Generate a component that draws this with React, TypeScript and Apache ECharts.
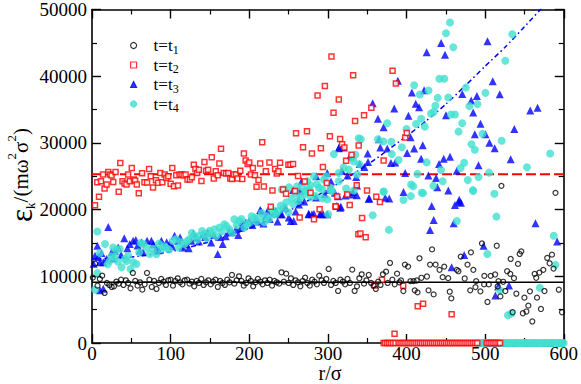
import React, { useEffect, useRef } from "react";
import * as echarts from "echarts";

// ---------- axes ----------
const xRange = [0, 600];
const xStep = 100;
const yRange = [0, 50000];
const yStep = 10000;

// ---------- series names ----------
const seriesNames = ["t=t1", "t=t2", "t=t3", "t=t4"];

// ---------- t = t1 (black open circles) ----------
const t1Points: number[][] = [
  [1, 9800], [4, 11900], [7, 8600], [10, 9600], [13, 10100], [16, 7500], [19, 9000], [22, 8700], [25, 8400], [28, 8500],
  [31, 9200], [34, 8900], [37, 9500], [40, 8700], [43, 9400], [46, 9000], [49, 8200], [52, 10500], [55, 9300], [58, 8600],
  [61, 9100], [64, 8000], [67, 8800], [70, 10500], [73, 9500], [76, 8400], [79, 9300], [82, 8100], [85, 9000], [88, 9600],
  [91, 9200], [94, 8700], [97, 9400], [100, 9500], [103, 8600], [106, 9300], [109, 9700], [112, 9100], [115, 8800], [118, 9400],
  [121, 9500], [124, 8900], [127, 9200], [130, 8500], [133, 9300], [136, 9000], [139, 9600], [142, 8700], [145, 9100], [148, 9400],
  [151, 8800], [154, 9200], [157, 9500], [160, 8400], [163, 9300], [166, 9000], [169, 8700], [172, 9500], [175, 9100], [178, 10200],
  [181, 8900], [184, 9400], [187, 10000], [190, 9300], [193, 8600], [196, 9000], [199, 9700], [202, 9300], [205, 8500], [208, 9100],
  [211, 9600], [214, 9200], [217, 8800], [220, 9400], [223, 9000], [226, 9500], [229, 8600], [232, 9300], [235, 9100], [238, 8900],
  [241, 10600], [244, 9200], [247, 10400], [250, 9000], [253, 9700], [256, 8700], [259, 9400], [262, 9100], [265, 8500], [268, 9300],
  [271, 9800], [274, 9000], [277, 8600], [280, 9500], [283, 9200], [286, 8800], [289, 10100], [292, 9400], [295, 9000], [298, 9600],
  [301, 11100], [304, 8700], [307, 9300], [310, 9000], [313, 7800], [316, 9500], [319, 9200], [322, 8800], [325, 9600], [328, 9000],
  [331, 11000], [334, 7800], [337, 8500], [340, 9700], [343, 10300], [346, 8900], [349, 9400], [352, 10200], [355, 9000], [358, 8600],
  [361, 8100], [364, 9200], [367, 8700], [370, 10300], [374, 10700], [376, 9000], [379, 12000], [382, 9500], [385, 8800], [388, 10400],
  [391, 9100], [393, 9370], [396, 7780], [398, 11760], [402, 11460], [405, 9270], [409, 9270], [410.5, 7890], [413, 9370], [414, 7590],
  [416.5, 12700], [419, 9780], [426, 9970], [428, 7890], [430, 11760], [432.5, 14030], [434.5, 7290], [437, 11760], [442, 10970], [446, 9870],
  [448, 11460], [453, 9720], [455, 7690], [457, 6700], [464, 10970], [466, 10760], [469, 12950], [474, 9670], [477.6, 11760], [481, 7890],
  [482, 13590], [485, 10970], [487.7, 8380], [488.6, 9270], [494, 7740], [496, 14930], [498.7, 8780], [499, 10070], [503, 6150], [504.7, 8780],
  [507, 10070], [512.7, 10270], [514.8, 14580], [516, 8480], [517, 9270], [519.4, 6990], [520.7, 23560], [523, 9180], [525.7, 7790], [528, 10760],
  [532, 10370], [532.5, 12600], [535, 4610], [536.7, 9720], [539.7, 7390], [541.8, 11860], [544, 13350], [546, 13740], [548, 4460], [550, 6800],
  [552.5, 4720], [555, 5600], [557, 7740], [560, 3230], [563, 10370], [565, 9780], [566, 6800], [569, 10560], [571, 5100], [574, 10970],
  [575.5, 7790], [579, 12750], [582, 11950], [585, 13240], [587, 11160], [589.5, 22510], [593.7, 7990], [597.8, 4610],
];

// ---------- t = t2 (red open squares) ----------
const t2Points: number[][] = [
  [3.8, 20640], [6.7, 24100], [8.9, 21920], [11.4, 24250], [14, 25250], [16, 23170], [18.6, 23760], [20.7, 25640], [22.8, 25250], [24.9, 25100],
  [27, 24150], [30, 25640], [34, 22660], [36, 26980], [38.8, 24250], [41.4, 23900], [43.9, 23760], [46, 25250], [48.1, 24250], [50.6, 26240],
  [53.2, 24500], [54.9, 24350], [57, 23760], [59.5, 22470], [63.7, 25440], [66.7, 24100], [70, 24060], [72.6, 26090], [74.7, 25000], [77.6, 23310],
  [81.4, 24400], [84, 24010], [86.9, 25490], [89.5, 24100], [92.4, 25250], [94.5, 24750], [97, 25000], [100, 23860], [102.1, 26240], [104.2, 23510],
  [107.2, 25150], [109.3, 23610], [111.4, 25250], [113.9, 25250], [116.5, 25100], [119, 25250], [121.5, 24500], [124.5, 24500], [127, 24850], [129.5, 26730],
  [131.6, 26090], [133.8, 25490], [135.9, 25990], [139.2, 24300], [143, 27130], [145.1, 25840], [147.7, 25990], [152.3, 27830], [154.9, 24650], [157.4, 25740],
  [159.9, 25150], [162, 26930], [164.1, 29120], [167.5, 25490], [170.5, 25400], [173.4, 25490], [175.9, 24650], [178.1, 24600], [180.2, 25250], [183.1, 25250],
  [185.2, 24650], [188.6, 25840], [191.1, 24600], [193.2, 28420], [195.4, 27380], [197.9, 26830], [200, 27080], [202.1, 25250], [204.6, 26240], [207.2, 25150],
  [209.3, 23410], [211.8, 24450], [213.9, 26930], [216.5, 30110], [218.6, 23460], [221.1, 25740], [225.7, 27080], [227.4, 20440], [229.5, 22870], [232.9, 26090],
  [235, 25400], [237.1, 25740], [239.2, 27030], [243, 23010], [246.8, 22370], [249.8, 26730], [252.3, 26730], [255.7, 26830], [258.2, 22770], [259.5, 31450],
  [262, 25050], [264.1, 18800], [268.4, 29360], [270.5, 24200], [273.4, 31740], [278, 22520], [279.7, 28420], [282.3, 18550], [286.9, 37100], [289.5, 20040],
  [291.1, 29210], [293.7, 26390], [296.2, 38540], [298.7, 24000], [302.5, 31000], [304.6, 42950], [307.2, 34520], [309.7, 20480], [310, 20480], [311.8, 21970],
  [313.9, 36510], [315.6, 30600], [318.1, 29810], [321, 29310], [323.2, 27330], [324.5, 22270], [327.8, 20680], [330, 28220], [332.1, 40130], [334.6, 33280],
  [336.7, 23660], [338.8, 16320], [339.2, 29610], [341.4, 16420], [343.5, 18750], [346, 34130], [348.1, 15870], [349.8, 22870], [355.3, 35270], [359.5, 8630],
  [361.6, 21920], [366.2, 21130], [368.8, 9470], [370.9, 27380], [382.3, 40820], [384.8, 1380], [386.5, 38890], [395.8, 8580], [398.3, 30800], [400.4, 31500],
  [414.3, 5500], [421.1, 5900], [457.4, 4320],
];
// radii at which the t2 energy is zero (markers lying on the axis)
const t2ZeroR: number[] = [
  371, 373, 375.5, 378, 380.5, 383, 386, 390, 392.5, 395, 397.5, 400, 402.5, 405, 407.5, 410, 412.5, 415, 417.5, 420,
  422.5, 425, 427.5, 430, 432.5, 435, 437.5, 440, 442.5, 445, 447.5, 450, 452.5, 455, 457.5, 460, 462.5, 465, 467.5, 470,
  472.5, 475, 477.5, 480, 482.5, 485, 487.5, 490, 502, 504.5, 507, 509.5, 512, 514.5, 517, 519,
];

// ---------- t = t3 (blue filled triangles) ----------
const t3Points: number[][] = [
  [2, 11900], [3.8, 13090], [6.8, 14580], [8, 12900], [10.1, 12100], [10.1, 7890], [12, 13500], [14.3, 12100], [14.3, 8130], [18.6, 12600],
  [20.7, 17410], [24.9, 13590], [27, 12700], [29.1, 13840], [33.3, 14330], [37, 13200], [41, 15720], [45, 14200], [48.1, 14830], [52.3, 15330],
  [55.7, 15430], [58, 14600], [60.8, 13840], [63, 15100], [65, 13590], [70, 15330], [75.5, 15330], [78, 14800], [81.9, 14090], [85, 13900],
  [88.2, 15330], [92.4, 14580], [95, 15100], [98.7, 14830], [102, 14500], [105, 16070], [109.3, 15330], [112, 15800], [115.6, 14330], [119.8, 14830],
  [123, 14200], [126.2, 15330], [129, 16400], [132.5, 15820], [136, 15200], [140.9, 16320], [144, 15900], [147.3, 16570], [151.5, 15080], [155, 16200],
  [159.9, 13340], [163, 15900], [166.2, 14830], [170, 16000], [174.7, 16810], [178, 16600], [183.1, 17060], [186, 16200], [189.5, 17310], [190.7, 18150],
  [193, 17600], [195.8, 18050], [200, 18300], [204, 17700], [208.4, 18550], [211, 18200], [213.9, 19940], [214.8, 19790], [218, 17900], [221.1, 19050],
  [223.2, 19790], [226, 18600], [231.6, 19540], [233.8, 19790], [236, 18200], [240, 19290], [241.4, 19290], [246, 20300], [250.2, 18800], [252.7, 18300],
  [255.7, 22920], [256.5, 18300], [259, 19700], [263.3, 20780], [263.3, 21530], [264.6, 22770], [266.7, 24250], [270, 21200], [275.5, 19390], [275.9, 19290],
  [279.7, 19290], [282.3, 19390], [285, 21800], [285.2, 25000], [290.2, 19390], [290.7, 19290], [294, 19290], [296, 22300], [299.2, 19290], [299.2, 25490],
  [301.3, 22920], [304, 24200], [308.9, 22520], [311.4, 20530], [313.1, 22020], [313.9, 29210], [314.3, 29360], [315.6, 20290], [316.5, 20440], [318, 25800],
  [320.3, 29310], [322.4, 22120], [325, 25100], [328.3, 28020], [328.7, 27970], [330.8, 22270], [332, 22620], [336, 24900], [336.7, 22170], [337.1, 23610],
  [340.5, 26830], [346.4, 26390], [350.6, 28420], [351, 27130], [351.9, 21630], [352.7, 21680], [357, 35960], [363.7, 33630], [365, 30550], [366.7, 29310],
  [370.9, 32340], [373, 21770], [375.5, 29160], [378, 21680], [380.2, 26980], [384.4, 35170], [385.7, 27080], [389, 39330], [396.2, 22620], [398.3, 25490],
  [400.8, 28470], [402.5, 34080], [405.1, 30850], [406.8, 37550], [409.7, 29160], [411.8, 35860], [416, 35360], [418.6, 27630], [420.7, 29660], [422.4, 37890],
  [425.7, 43600], [427.8, 25100], [430, 16960], [432, 20530], [434.6, 18450], [437.6, 24750], [439.2, 23360], [441.4, 26830], [444, 44990], [447.3, 27630],
  [449, 43200], [450.2, 34130], [453.2, 22870], [455.3, 27930], [457.4, 11360], [460, 17960], [461.6, 20680], [464, 25840], [466.7, 21180], [467.1, 21480],
  [469.2, 21030], [470.9, 37350], [473.4, 13190], [482.3, 36360], [484.8, 34570], [486.9, 31300], [489.5, 37050], [491.6, 26640], [494.1, 32880], [498, 14580],
  [500.4, 31300], [503, 45240], [505.5, 30010], [509.7, 39230], [512.2, 29210], [513, 7140], [516.5, 8480], [518.6, 37300], [530.4, 8630], [532.5, 27530],
  [537.1, 32090], [557.4, 34870], [564.1, 17960], [566.7, 35270], [591.6, 15230],
];
const t3ZeroR: number[] = [505, 514, 526, 538, 552, 563, 575, 583, 595];

// ---------- t = t4 (turquoise filled circles) ----------
const t4Points: number[][] = [
  [3.8, 7990], [6.8, 10470], [6.8, 16720], [10, 13500], [16.5, 14830], [20, 11800], [22.8, 12350], [25, 13000], [27, 14330], [29.1, 12850],
  [30.8, 13940], [33, 12200], [35.4, 14090], [37.6, 11360], [41.8, 12600], [44, 12300], [46, 13090], [49, 11100], [52.3, 12100], [56.5, 11850],
  [60, 13600], [62, 15000], [65, 14830], [69.2, 14330], [73.4, 13340], [77.6, 14090], [82, 13300], [85, 14900], [88, 14100], [92, 14500],
  [94, 14300], [98, 14000], [103, 15330], [107, 15570], [110, 14300], [113.5, 15080], [117.7, 14830], [121, 15300], [124, 15570], [127, 16500],
  [130, 16070], [134, 15500], [136.7, 16070], [140, 16800], [143, 16320], [146, 15700], [149.4, 16810], [152, 16400], [155.7, 17060], [158, 16000],
  [162, 17310], [165, 16700], [168.4, 17810], [171, 17500], [174.7, 17060], [178, 16500], [181, 18550], [184, 17700], [187.3, 18300], [190, 18600],
  [193.7, 17310], [197, 17800], [200, 18050], [203, 19000], [206.3, 18800], [209, 18200], [212.7, 18800], [216, 19500], [219, 18100], [222, 19000],
  [225, 18600], [228, 20100], [231, 19300], [234, 19300], [237, 19800], [240, 20600], [241.4, 23010], [244, 20300], [244.3, 23010], [247, 21100],
  [250, 19600], [250.6, 23360], [254, 21700], [256, 20800], [259, 22500], [261, 23510], [262, 21300], [265, 21900], [267.5, 23360], [269.6, 22270],
  [271.7, 22770], [273.8, 24250], [276, 23100], [278, 21870], [278, 23660], [282.3, 25000], [284.4, 22020], [286, 23800], [288.6, 23260], [292.8, 21680],
  [292.8, 23010], [295, 24500], [297.9, 25000], [299.2, 21530], [300.4, 19290], [303.4, 22870], [303.4, 23260], [305.5, 22770], [307.6, 28320], [313.9, 25490],
  [313.9, 24250], [320, 26300], [323.2, 23160], [326.6, 25990], [330.8, 27730], [332.9, 27230], [332.9, 22870], [335, 28220], [337.1, 25250], [339.2, 30700],
  [340, 26800], [341.8, 30550], [357, 19150], [363.7, 30550], [370.5, 30210], [370.9, 22670], [371, 22720], [375.5, 32940], [377.6, 16960], [380.6, 30160],
  [381.4, 28320], [390, 27430], [394, 29360], [396.2, 21430], [400, 32090], [405.5, 22020], [405.9, 23760], [408.4, 23510], [409.7, 38640], [412.2, 32840],
  [413.9, 25350], [417, 37250], [418.6, 33630], [419.4, 22520], [421.1, 22470], [423.2, 32440], [425.7, 27080], [428, 37850], [431.2, 34420], [434.2, 23560],
  [434.6, 34620], [436.7, 35560], [439.7, 36750], [441.8, 39630], [443.9, 25940], [446, 24250], [448.1, 39630], [450.2, 46430], [453.2, 36800], [455.3, 48060],
  [456.6, 34270], [459.5, 44340], [461.6, 34270], [464.1, 18300], [466.2, 31690], [468.8, 26240], [470.9, 32940], [473.4, 27030], [475.5, 38290], [478, 24450],
  [480, 35510], [482.7, 29810], [484.4, 22920], [484.8, 22770], [486.9, 28970], [490.3, 35810], [491.6, 24900], [496.6, 31350], [500.4, 37500], [502.9, 13340],
  [505, 25540], [511.8, 22370], [514.3, 18950], [518.8, 7890], [521.1, 30310], [525.7, 42310], [529, 4170], [533.3, 4410], [534.6, 46280], [553.2, 26340],
  [569.6, 8280], [582.7, 28420], [587.3, 16070], [589.5, 11710],
];
const t4ZeroR: number[] = [
  491, 493, 495.5, 498, 500, 503, 505.5, 508, 510.5, 513, 515.5, 518, 520.5, 523, 525.5, 528, 530.5, 533, 535.5, 538,
  540.5, 543, 545.5, 548, 550.5, 553, 555.5, 558, 560.5, 563, 565.5, 568, 570.5, 573, 575.5, 578, 580.5, 583, 585.5, 588,
  590.5, 593, 595.5, 598, 600,
];

// ---------- reference lines ----------
const t1LevelLine: number[][] = [[0, 9100], [600, 9100]];
const t2LevelLine: number[][] = [[0, 25300], [600, 25300]];
const t3FitR: number[] = [0, 50, 100, 150, 200, 250, 300, 350, 400, 425, 450, 475, 500, 525, 550, 575];
const t3FitE: number[] = [12600, 12900, 13700, 15200, 17200, 19800, 23000, 26700, 31000, 33300, 35800, 38600, 41500, 44300, 47400, 50600];

const FONT = "'Liberation Serif', 'Times New Roman', serif";

function withZeros(points: number[][], zeroR: number[]): number[][] {
  return points.concat(zeroR.map((r) => [r, 0]));
}

function makeAxis(kind: "x" | "y", position: string, showLabels: boolean, range: number[], step: number) {
  return {
    type: "value",
    position,
    min: range[0],
    max: range[1],
    interval: step,
    axisLine: { show: true, onZero: false, lineStyle: { color: "#000", width: 1.6 } },
    axisTick: { show: true, inside: true, length: 9, lineStyle: { color: "#000", width: 1.4 } },
    minorTick: { show: true, splitNumber: 2, length: 5, lineStyle: { color: "#000", width: 1.2 } },
    splitLine: { show: false },
    minorSplitLine: { show: false },
    axisLabel: {
      show: showLabels,
      color: "#000",
      fontFamily: FONT,
      fontSize: 19,
      margin: kind === "x" ? 1 : 5,
      showMinLabel: true,
      showMaxLabel: true,
      formatter: (v: number) => String(v),
    },
  };
}

export default function App() {
  const ref = useRef<HTMLDivElement>(null);
  useEffect(() => {
    if (!ref.current) return;
    const chart = echarts.init(ref.current, null, { renderer: "svg" });
    const scatterBase = { type: "scatter", xAxisIndex: 0, yAxisIndex: 0, silent: true };
    const lineBase = { type: "line", showSymbol: false, symbol: "none", silent: true, z: 1 };
    const option: any = {
      animation: false,
      backgroundColor: "#fff",
      grid: { left: 92, top: 7, right: 15, bottom: 41, containLabel: false },
      xAxis: [makeAxis("x", "bottom", true, xRange, xStep), makeAxis("x", "top", false, xRange, xStep)],
      yAxis: [makeAxis("y", "left", true, yRange, yStep), makeAxis("y", "right", false, yRange, yStep)],
      legend: {
        data: seriesNames,
        orient: "vertical",
        left: 130,
        top: 37,
        padding: 0,
        itemGap: 1,
        itemWidth: 6,
        itemHeight: 6,
        selectedMode: false,
        itemStyle: { borderWidth: 1.2 },
        formatter: (name: string) => `{p| }{a|t=t}{b|${name.slice(3)}}`,
        textStyle: {
          color: "#000",
          fontFamily: FONT,
          fontSize: 17,
          rich: {
            p: { width: 12, fontSize: 17, lineHeight: 20 },
            a: { fontFamily: FONT, fontSize: 17, lineHeight: 20, color: "#000" },
            b: { fontFamily: FONT, fontSize: 12, lineHeight: 12, color: "#000", verticalAlign: "bottom" },
          },
        },
      },
      series: [
        {
          ...scatterBase,
          name: seriesNames[0],
          data: t1Points,
          symbol: "circle",
          symbolSize: 5,
          itemStyle: { color: "rgba(255,255,255,0)", borderColor: "#000", borderWidth: 1.2 },
          z: 5,
        },
        {
          ...scatterBase,
          name: seriesNames[1],
          data: withZeros(t2Points, t2ZeroR),
          symbol: "rect",
          symbolSize: 5,
          itemStyle: { color: "#fff", borderColor: "#ff0000", borderWidth: 1.5 },
          z: 4,
        },
        {
          ...scatterBase,
          name: seriesNames[2],
          data: withZeros(t3Points, t3ZeroR),
          symbol: "triangle",
          symbolSize: 8,
          itemStyle: { color: "#0000ff", borderColor: "#0000ff", borderWidth: 0 },
          z: 2,
        },
        {
          ...scatterBase,
          name: seriesNames[3],
          data: withZeros(t4Points, t4ZeroR),
          symbol: "circle",
          symbolSize: 8,
          itemStyle: { color: "#40e0d0", borderColor: "#40e0d0", borderWidth: 0 },
          z: 3,
        },
        {
          ...lineBase,
          name: "t1 level",
          data: t1LevelLine,
          lineStyle: { color: "#000", width: 1.5, type: "solid" },
        },
        {
          ...lineBase,
          name: "t2 level",
          data: t2LevelLine,
          lineStyle: { color: "#ff0000", width: 2, type: [10, 4] },
        },
        {
          ...lineBase,
          name: "t3 fit",
          data: t3FitR.map((r, i) => [r, t3FitE[i]]),
          smooth: 0.2,
          clip: true,
          lineStyle: { color: "#0000ff", width: 1.5, type: [5, 3, 1.5, 3] },
        },
      ],
      graphic: [
        {
          type: "text",
          x: 21,
          y: 175,
          rotation: Math.PI / 2,
          style: {
            text: "{e|ε}{k|k}{n|/(mω}{s|2}{n|σ}{s|2}{n|)}",
            align: "center",
            verticalAlign: "middle",
            fill: "#000",
            fontFamily: FONT,
            fontSize: 21,
            rich: {
              e: { fontFamily: FONT, fontSize: 31, lineHeight: 32, fill: "#000", color: "#000" },
              k: { fontFamily: FONT, fontSize: 13, lineHeight: 14, verticalAlign: "bottom", fill: "#000", color: "#000" },
              n: { fontFamily: FONT, fontSize: 21, lineHeight: 32, fill: "#000", color: "#000" },
              s: { fontFamily: FONT, fontSize: 13, lineHeight: 13, verticalAlign: "top", fill: "#000", color: "#000" },
            },
          },
        },
        {
          type: "text",
          x: 330,
          y: 383,
          style: {
            text: "r/σ",
            align: "center",
            verticalAlign: "bottom",
            fill: "#000",
            fontFamily: FONT,
            fontSize: 20,
          },
        },
      ],
    };
    chart.setOption(option);
    return () => chart.dispose();
  }, []);
  return (
    <div
      ref={ref}
      style={{ position: "fixed", left: 0, top: 0, width: 581, height: 384, background: "#fff" }}
    />
  );
}
